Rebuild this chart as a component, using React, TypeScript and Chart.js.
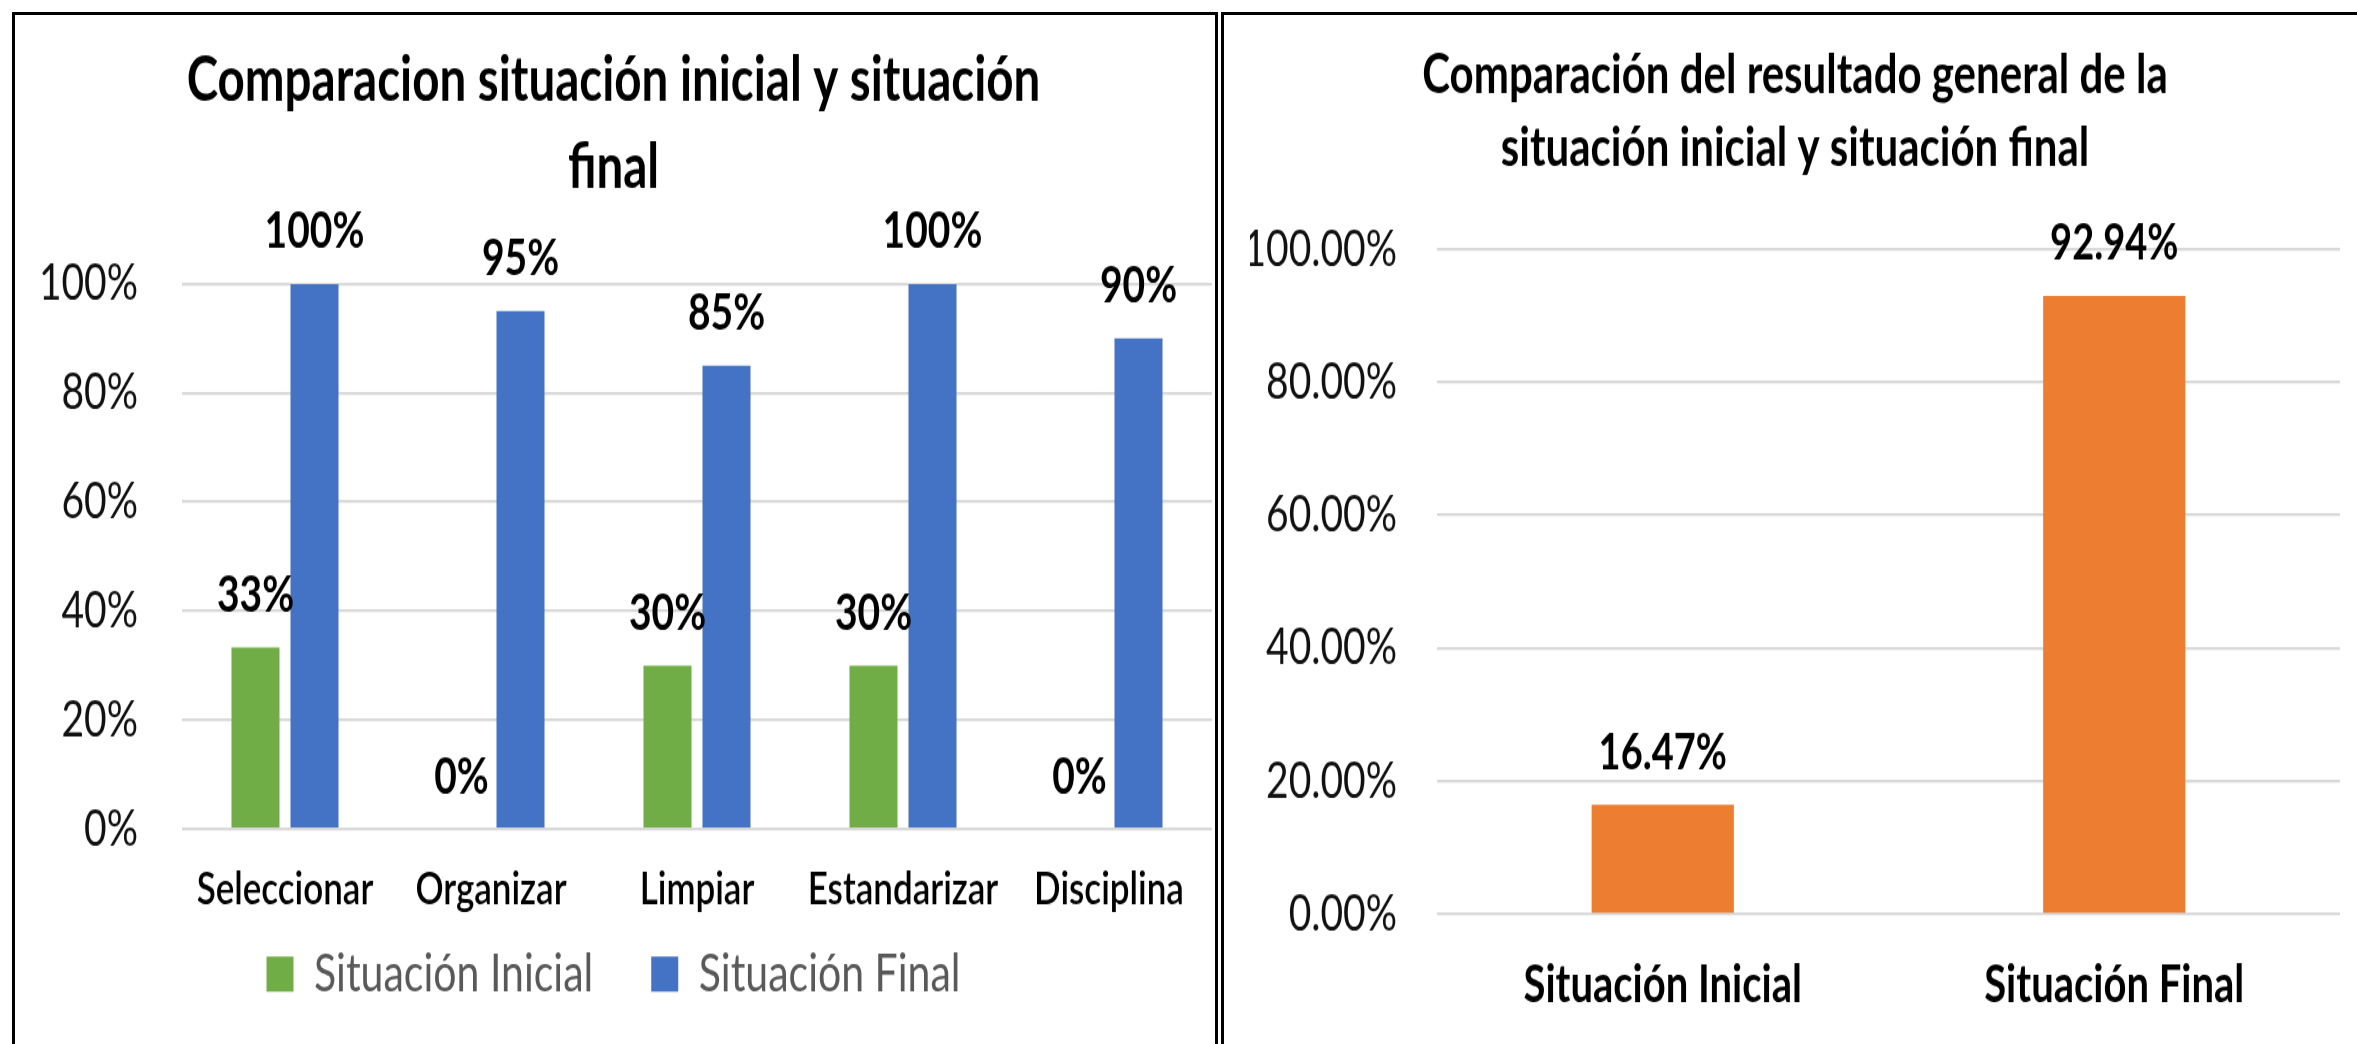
import React, { useEffect, useRef } from 'react';
import { Chart, registerables } from 'chart.js';
Chart.register(...registerables);

// vertical stretch factor (reference text is tall and narrow)
const S = 1.3;
const FONT = 'Lato, Carlito, "Open Sans", sans-serif';

const leftTitle = ['Comparacion situación inicial y situación', 'final'];
const leftCategories = ['Seleccionar', 'Organizar', 'Limpiar', 'Estandarizar', 'Disciplina'];
const seriesNames = ['Situación Inicial', 'Situación Final'];
const initialValues = [33.33, 0, 30, 30, 0];
const finalValues = [100, 95, 85, 100, 90];

const rightTitle = ['Comparación del resultado general de la', 'situación inicial y situación final'];
const rightCategories = ['Situación Inicial', 'Situación Final'];
const overallValues = [16.47, 92.94];

const GREEN = '#70AD47';
const BLUE = '#4472C4';
const ORANGE = '#ED7D31';
const GRID = '#D9D9D9';

function valueLabels(fmt: (v: number) => string, font: string, offset: number) {
  return {
    id: 'valueLabels',
    afterDatasetsDraw(chart: any) {
      const ctx = chart.ctx;
      ctx.save();
      ctx.font = font;
      ctx.fillStyle = '#000';
      ctx.textAlign = 'center';
      ctx.textBaseline = 'alphabetic';
      chart.data.datasets.forEach((ds: any, i: number) => {
        const meta = chart.getDatasetMeta(i);
        meta.data.forEach((el: any, j: number) => {
          ctx.fillText(fmt(ds.data[j]), el.x, el.y - offset);
        });
      });
      ctx.restore();
    },
  };
}

// moves the bottom legend up, closer to the axis labels (as in the original)
function legendShift(d: number) {
  return {
    id: 'legendShift',
    afterLayout(chart: any) {
      const lg = chart.legend;
      if (lg) {
        lg.top -= d;
        lg.bottom -= d;
      }
    },
  };
}

function LeftChart() {
  const ref = useRef<HTMLCanvasElement>(null);
  useEffect(() => {
    const chart = new Chart(ref.current as HTMLCanvasElement, {
      type: 'bar',
      data: {
        labels: leftCategories,
        datasets: [
          { label: seriesNames[0], data: initialValues, backgroundColor: GREEN, categoryPercentage: 0.573, barPercentage: 0.8136 },
          { label: seriesNames[1], data: finalValues, backgroundColor: BLUE, categoryPercentage: 0.573, barPercentage: 0.8136 },
        ],
      },
      options: {
        responsive: false,
        animation: false,
        devicePixelRatio: 1,
        layout: { padding: { left: 0, right: 3, top: 0, bottom: 14.8 } },
        plugins: {
          title: {
            display: true,
            text: leftTitle,
            color: '#000',
            font: { family: FONT, size: 47.5, weight: 'bold', lineHeight: 67 / 47.5 },
            padding: { top: 17.5, bottom: 55.4 },
          },
          legend: {
            display: true,
            position: 'bottom',
            labels: { boxWidth: 27, boxHeight: 27, padding: 58, color: '#595959', font: { family: FONT, size: 41 } },
          },
          tooltip: { enabled: false },
        },
        scales: {
          x: {
            grid: { display: false, drawTicks: false },
            border: { display: false },
            ticks: { color: '#000', font: { family: FONT, size: 35, weight: '600' }, padding: 25.5, maxRotation: 0, autoSkip: false },
            afterFit: (s: any) => { s.height = 70; },
          },
          y: {
            min: 0,
            max: 100,
            ticks: { stepSize: 20, callback: (v: any) => v + '%', color: '#111', font: { family: FONT, size: 39 }, padding: 44 },
            grid: { color: GRID, lineWidth: 3 / S, drawTicks: false },
            border: { display: false },
            afterFit: (s: any) => { s.width = 167; },
          },
        },
      } as any,
      plugins: [valueLabels((v) => Math.round(v) + '%', `bold 39px ${FONT}`, 27.7), legendShift(36.9)],
    });
    return () => chart.destroy();
  }, []);
  const H = 820;
  return (
    <canvas
      ref={ref}
      width={1200}
      height={H}
      style={{ position: 'absolute', left: 15, top: 15, width: '1200px', height: `${H * S}px` }}
    />
  );
}

function RightChart() {
  const ref = useRef<HTMLCanvasElement>(null);
  useEffect(() => {
    const chart = new Chart(ref.current as HTMLCanvasElement, {
      type: 'bar',
      data: {
        labels: rightCategories,
        datasets: [
          { label: 'Resultado general', data: overallValues, backgroundColor: ORANGE, categoryPercentage: 1, barPercentage: 0.315 },
        ],
      },
      options: {
        responsive: false,
        animation: false,
        devicePixelRatio: 1,
        layout: { padding: { left: 26, right: 17, top: 0, bottom: 0 } },
        plugins: {
          title: {
            display: true,
            text: rightTitle,
            color: '#000',
            font: { family: FONT, size: 42, weight: 'bold', lineHeight: 56 / 42 },
            padding: { top: 18.8, bottom: 49.2 },
          },
          legend: { display: false },
          tooltip: { enabled: false },
        },
        scales: {
          x: {
            grid: { display: false, drawTicks: false },
            border: { display: false },
            ticks: { color: '#000', font: { family: FONT, size: 40, weight: 'bold' }, padding: 30.5, maxRotation: 0, autoSkip: false },
            afterFit: (s: any) => { s.height = 100.5; },
          },
          y: {
            min: 0,
            max: 100,
            ticks: { stepSize: 20, callback: (v: any) => Number(v).toFixed(2) + '%', color: '#111', font: { family: FONT, size: 39 }, padding: 40 },
            grid: { color: GRID, lineWidth: 3 / S, drawTicks: false },
            border: { display: false },
            afterFit: (s: any) => { s.width = 187; },
          },
        },
      } as any,
      plugins: [valueLabels((v) => v.toFixed(2) + '%', `bold 38px ${FONT}`, 27.7)],
    });
    return () => chart.destroy();
  }, []);
  const H = 792;
  return (
    <canvas
      ref={ref}
      width={1133}
      height={H}
      style={{ position: 'absolute', left: 1224, top: 15, width: '1133px', height: `${H * S}px` }}
    />
  );
}

export default function App() {
  return (
    <div style={{ position: 'absolute', left: 0, top: 0, width: 2357, height: 1044, overflow: 'hidden', background: '#fff' }}>
      <div style={{ position: 'absolute', left: 12, top: 12, width: 1200, height: 1100, borderTop: '3px solid #000', borderLeft: '3px solid #000', borderRight: '3px solid #000' }} />
      <div style={{ position: 'absolute', left: 1221, top: 12, width: 1200, height: 1100, borderTop: '3px solid #000', borderLeft: '3px solid #000' }} />
      <LeftChart />
      <RightChart />
    </div>
  );
}
